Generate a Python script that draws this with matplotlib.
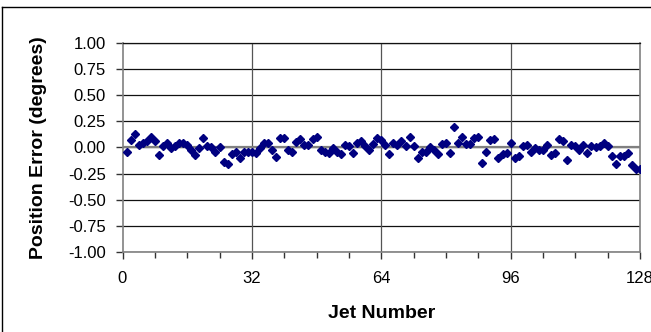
import matplotlib
matplotlib.use('Agg')
import matplotlib.pyplot as plt
import numpy as np

jets = list(range(1, 129))
errors = [
    -0.04, 0.07, 0.13, 0.02, 0.04, 0.06, 0.10, 0.06, -0.07, 0.01,
    0.04, -0.01, 0.01, 0.04, 0.04, 0.02, -0.03, -0.07, -0.01, 0.09,
    0.01, 0.00, -0.04, 0.00, -0.14, -0.16, -0.06, -0.04, -0.10, -0.04,
    -0.04, -0.04, -0.05, -0.01, 0.04, 0.04, -0.03, -0.09, 0.09, 0.09,
    -0.03, -0.04, 0.05, 0.08, 0.02, 0.02, 0.08, 0.10, -0.03, -0.04,
    -0.05, -0.01, -0.04, -0.06, 0.02, 0.01, -0.05, 0.04, 0.06, 0.01,
    -0.03, 0.03, 0.09, 0.07, 0.02, -0.06, 0.04, 0.02, 0.06, 0.01,
    0.10, 0.01, -0.10, -0.04, -0.04, 0.00, -0.03, -0.06, 0.03, 0.04,
    -0.05, 0.19, 0.04, 0.10, 0.03, 0.03, 0.09, 0.10, -0.15, -0.04,
    0.07, 0.08, -0.10, -0.06, -0.05, 0.04, -0.10, -0.08, 0.01, 0.02,
    -0.04, -0.01, -0.03, -0.03, 0.02, -0.07, -0.05, 0.08, 0.06, -0.12,
    0.02, 0.01, -0.03, 0.02, -0.05, 0.01, 0.00, 0.01, 0.04, 0.01,
    -0.08, -0.16, -0.08, -0.08, -0.05, -0.17, -0.21, -0.21,
]
x_ticks = [0, 32, 64, 96, 128]
y_ticks = [1.00, 0.75, 0.50, 0.25, 0.00, -0.25, -0.50, -0.75, -1.00]

plt.rcParams['font.family'] = ['Liberation Sans', 'DejaVu Sans']

W, H = 651, 332
fig = plt.figure(figsize=(W / 100, H / 100), dpi=100)
ax = fig.add_axes([122.5 / W, 1 - 252 / H, (640 - 122.5) / W, (252 - 42.7) / H])

# outer chart frame (only top and left visible)
fig.add_artist(plt.Line2D([2 / W, 2 / W], [0, 1 - 7 / H], transform=fig.transFigure,
                          color='black', lw=1))
fig.add_artist(plt.Line2D([2 / W, 1], [1 - 7 / H, 1 - 7 / H], transform=fig.transFigure,
                          color='black', lw=1))

for y in y_ticks:
    ax.axhline(y, color='#111111', lw=0.9, zorder=1)
for x in x_ticks[1:-1]:
    ax.axvline(x, color='#555555', lw=0.9, zorder=1)
ax.axhline(0, color='#808080', lw=1.6, zorder=1)

ax.plot(jets, errors, linestyle='none', marker='D', markersize=4.2,
        color='#000080', zorder=3)

ax.set_xlim(0, 128)
ax.set_ylim(-1, 1)
ax.set_xticks(x_ticks)
ax.set_xticks(np.arange(0, 129, 8), minor=True)
ax.set_yticks(y_ticks)
ax.set_yticklabels(['%.2f' % v for v in y_ticks])

for s in ['left', 'bottom', 'right']:
    ax.spines[s].set_color('#808080')
    ax.spines[s].set_linewidth(1.2)
ax.spines['top'].set_color('#111111')
ax.spines['top'].set_linewidth(0.9)

ax.tick_params(axis='both', which='both', direction='out', color='#333333',
               labelsize=12, width=1)
ax.tick_params(axis='x', which='major', length=5, pad=9)
ax.tick_params(axis='x', which='minor', length=4)
ax.tick_params(axis='y', length=5, pad=7)

ax.set_xlabel('Jet Number', fontsize=14, fontweight='bold', labelpad=13)
ax.set_ylabel('Position Error (degrees)', fontsize=14, fontweight='bold', labelpad=15)

fig.savefig('out.png', dpi=100)
